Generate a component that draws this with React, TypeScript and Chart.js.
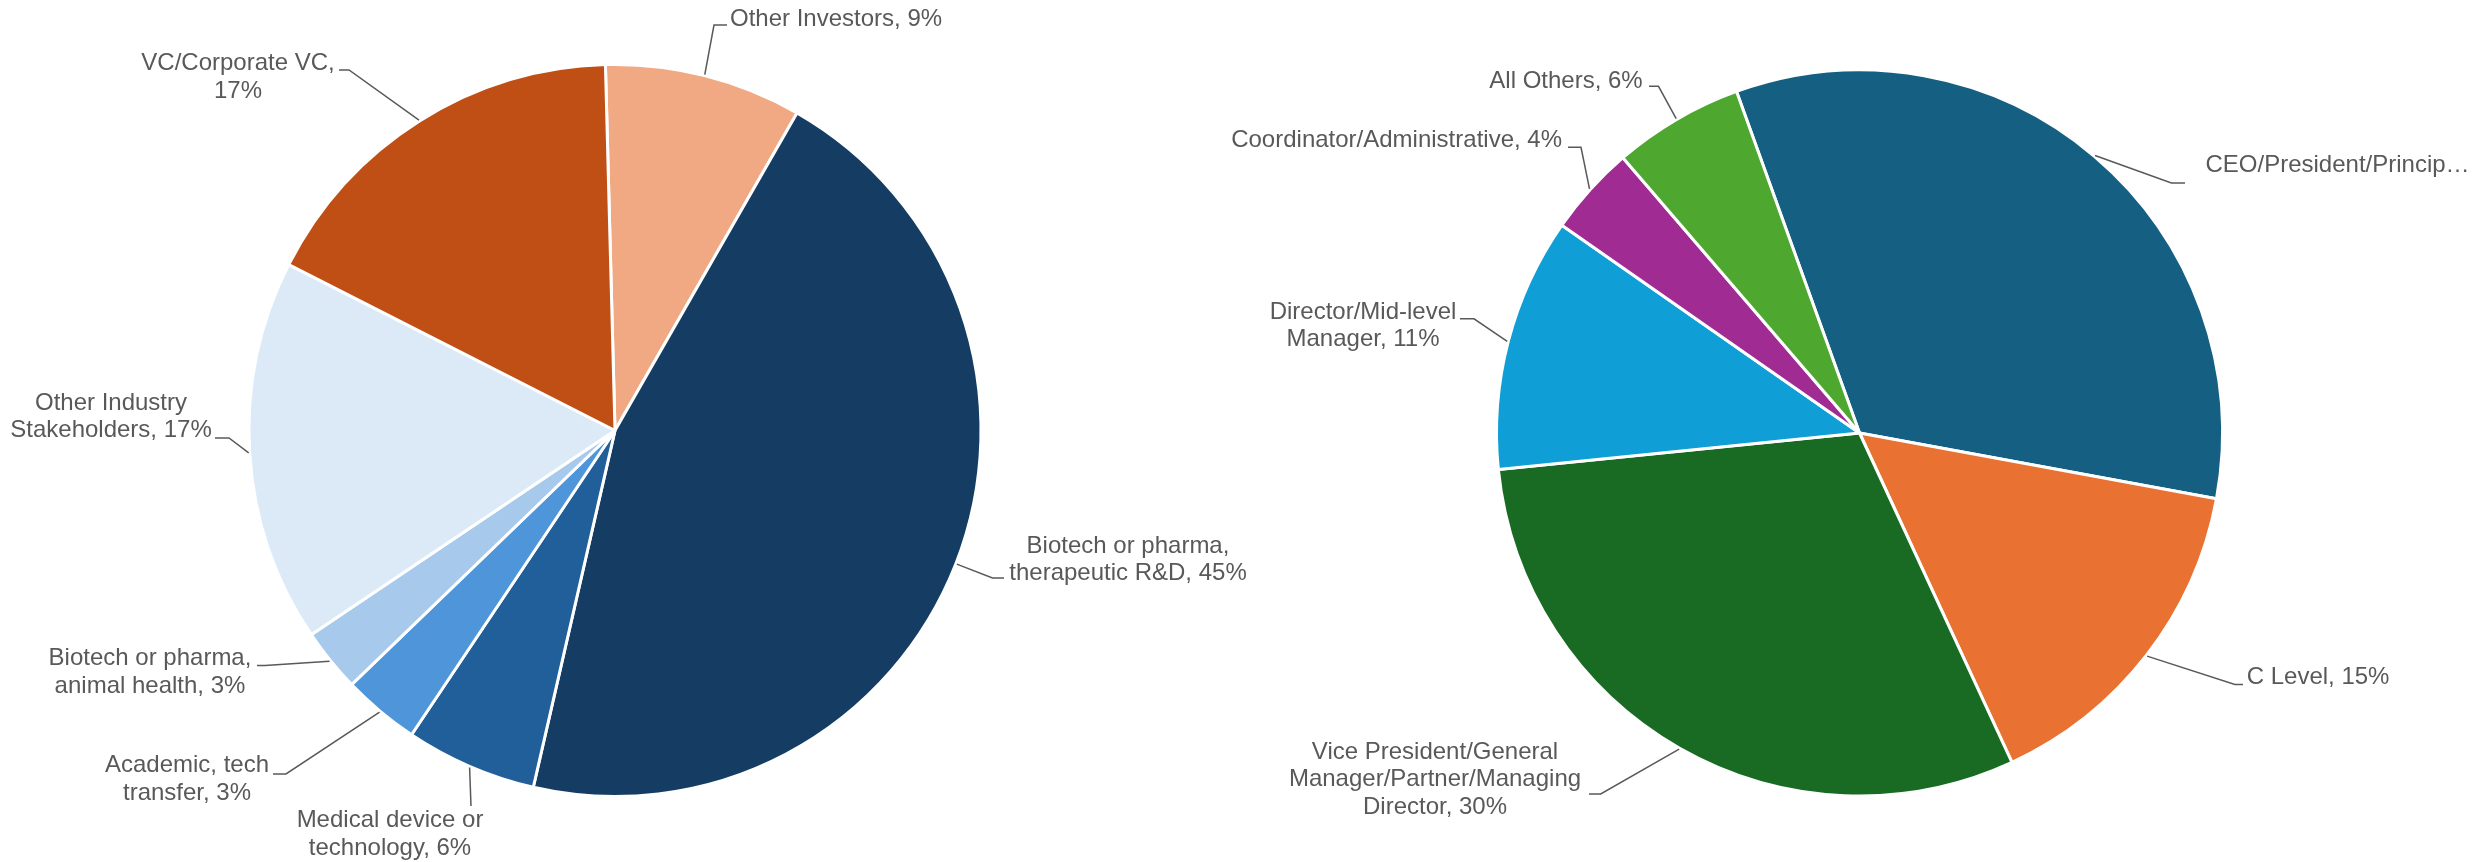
import React, { useEffect, useRef } from "react";
import { Chart, PieController, ArcElement } from "chart.js";

Chart.register(PieController, ArcElement);

const FONT = '"Liberation Sans", Arial, Helvetica, sans-serif';
const TEXT_COLOR = "#595959";

// ---------- Left pie: organisation type ----------
const leftCategories = [
  "Other Investors",
  "Biotech or pharma, therapeutic R&D",
  "Medical device or technology",
  "Academic, tech transfer",
  "Biotech or pharma, animal health",
  "Other Industry Stakeholders",
  "VC/Corporate VC",
];
const leftValues = [8.7, 45.3, 5.8, 3.4, 2.8, 16.9, 17.1];
const leftColors = ["#F1A983", "#153D64", "#215F9A", "#4E95D9", "#A6C9EC", "#DCEAF7", "#C04F15"];

// ---------- Right pie: job level ----------
const rightCategories = [
  "CEO/President/Principal/Owner",
  "C Level",
  "Vice President/General Manager/Partner/Managing Director",
  "Director/Mid-level Manager",
  "Coordinator/Administrative",
  "All Others",
];
const rightValues = [33.4, 15.2, 30.3, 11.3, 4.0, 5.8];
const rightColors = ["#156082", "#E97132", "#196B24", "#0F9ED5", "#A02B93", "#4EA72E"];

type LabelLayout = {
  x: number;
  y: number;
  align: CanvasTextAlign;
  words: number[];
  elbow: [number, number];
  end: [number, number];
  maxWidth?: number;
};

const leftLayout: LabelLayout[] = [
  { x: 730, y: 26, align: "left", words: [3], elbow: [714, 25], end: [727, 25] },
  { x: 1128, y: 552.5, align: "center", words: [3, 3], elbow: [992.5, 578], end: [1004, 578] },
  { x: 390, y: 827, align: "center", words: [3, 2], elbow: [471, 806], end: [471, 806] },
  { x: 187, y: 772, align: "center", words: [2, 2], elbow: [286, 774], end: [273, 774] },
  { x: 150, y: 665, align: "center", words: [3, 3], elbow: [265, 665.5], end: [257, 665.5] },
  { x: 111, y: 409.5, align: "center", words: [2, 2], elbow: [229, 438], end: [215, 438] },
  { x: 238, y: 70, align: "center", words: [2, 1], elbow: [349, 70], end: [339, 70] },
];

const rightLayout: LabelLayout[] = [
  { x: 2205.5, y: 171.5, align: "left", words: [99], elbow: [2171.4, 183], end: [2185, 183], maxWidth: 270 },
  { x: 2246.7, y: 684.4, align: "left", words: [3], elbow: [2234.9, 684.4], end: [2243, 684.4] },
  { x: 1435, y: 758.6, align: "center", words: [2, 1, 2], elbow: [1600.7, 794], end: [1589, 794] },
  { x: 1363, y: 318.8, align: "center", words: [1, 2], elbow: [1474, 318.8], end: [1460, 318.8] },
  { x: 1562, y: 147.3, align: "right", words: [3], elbow: [1581, 147.3], end: [1568, 147.3] },
  { x: 1642.7, y: 88, align: "right", words: [3], elbow: [1658.5, 86.3], end: [1649, 86.3] },
];

type PieSpec = {
  categories: string[];
  values: number[];
  colors: string[];
  layout: LabelLayout[];
  rotation: number;
  center: [number, number];
  radius: number;
};

const W = 2483;
const H = 862;
const LINE_H = 27.5;

function makeLabelPlugin(spec: PieSpec) {
  return {
    id: "calloutLabels",
    afterDraw(chart: any) {
      const ctx: CanvasRenderingContext2D = chart.ctx;
      const meta = chart.getDatasetMeta(0);
      const total = spec.values.reduce((a, b) => a + b, 0);
      ctx.save();
      ctx.font = `24px ${FONT}`;
      ctx.fillStyle = TEXT_COLOR;
      ctx.strokeStyle = TEXT_COLOR;
      ctx.lineWidth = 1.5;
      ctx.textBaseline = "alphabetic";
      meta.data.forEach((arc: any, i: number) => {
        const lay = spec.layout[i];
        if (!lay) return;
        const { x, y, startAngle, endAngle, outerRadius } = arc.getProps(
          ["x", "y", "startAngle", "endAngle", "outerRadius"],
          true
        );
        const mid = (startAngle + endAngle) / 2;
        const r = outerRadius + 1;
        const px = x + Math.cos(mid) * r;
        const py = y + Math.sin(mid) * r;
        ctx.beginPath();
        ctx.moveTo(px, py);
        ctx.lineTo(lay.elbow[0], lay.elbow[1]);
        ctx.lineTo(lay.end[0], lay.end[1]);
        ctx.stroke();

        const pct = Math.round((spec.values[i] / total) * 100);
        let full = `${spec.categories[i]}, ${pct}%`;
        const words = full.split(" ");
        const lines: string[] = [];
        let k = 0;
        lay.words.forEach((n) => {
          const chunk = words.slice(k, k + n);
          k += n;
          if (chunk.length) lines.push(chunk.join(" "));
        });
        if (k < words.length) lines[lines.length - 1] += " " + words.slice(k).join(" ");
        if (lay.maxWidth) {
          for (let li = 0; li < lines.length; li++) {
            let s = lines[li];
            if (ctx.measureText(s).width > lay.maxWidth) {
              while (s.length > 0 && ctx.measureText(s + "\u2026").width > lay.maxWidth) {
                s = s.slice(0, -1);
              }
              lines[li] = s + "\u2026";
            }
          }
        }
        ctx.textAlign = lay.align;
        lines.forEach((ln, li) => {
          ctx.fillText(ln, lay.x, lay.y + li * LINE_H);
        });
      });
      ctx.restore();
    },
  };
}

function PieCanvas({ spec }: { spec: PieSpec }) {
  const ref = useRef<HTMLCanvasElement | null>(null);
  useEffect(() => {
    if (!ref.current) return;
    const box = 400;
    const chart = new Chart(ref.current, {
      type: "pie",
      data: {
        labels: spec.categories,
        datasets: [
          {
            data: spec.values,
            backgroundColor: spec.colors,
            borderColor: "#ffffff",
            borderWidth: 3,
            hoverBorderWidth: 3,
            hoverOffset: 0,
          } as any,
        ],
      },
      options: {
        animation: false,
        responsive: true,
        maintainAspectRatio: false,
        rotation: spec.rotation,
        radius: spec.radius,
        events: [],
        layout: {
          padding: {
            left: spec.center[0] - box,
            right: W - spec.center[0] - box,
            top: spec.center[1] - box,
            bottom: H - spec.center[1] - box,
          },
        },
        plugins: {
          legend: { display: false },
          tooltip: { enabled: false },
        } as any,
      } as any,
      plugins: [makeLabelPlugin(spec)],
    });
    return () => chart.destroy();
  }, [spec]);
  return (
    <div style={{ position: "absolute", left: 0, top: 0, width: W, height: H }}>
      <canvas ref={ref} />
    </div>
  );
}

const leftSpec: PieSpec = {
  categories: leftCategories,
  values: leftValues,
  colors: leftColors,
  layout: leftLayout,
  rotation: -1.5,
  center: [615, 430.5],
  radius: 366,
};

const rightSpec: PieSpec = {
  categories: rightCategories,
  values: rightValues,
  colors: rightColors,
  layout: rightLayout,
  rotation: -19.8,
  center: [1859.5, 433],
  radius: 363,
};

export default function App() {
  useEffect(() => {
    document.body.style.margin = "0";
  }, []);
  return (
    <div
      style={{
        position: "absolute",
        left: 0,
        top: 0,
        width: W,
        height: H,
        background: "#ffffff",
        overflow: "hidden",
      }}
    >
      <PieCanvas spec={leftSpec} />
      <PieCanvas spec={rightSpec} />
    </div>
  );
}
